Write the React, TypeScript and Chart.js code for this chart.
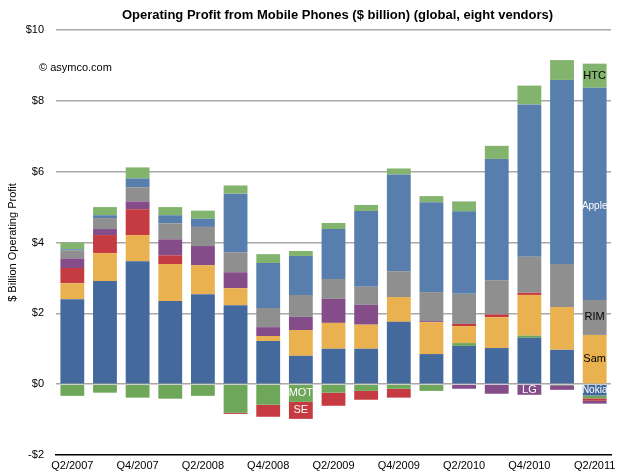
import React, { useEffect, useRef } from "react";
import { Chart, registerables } from "chart.js";

Chart.register(...registerables);

const categories = [
  "Q2/2007", "Q3/2007", "Q4/2007", "Q1/2008", "Q2/2008", "Q3/2008", "Q4/2008", "Q1/2009",
  "Q2/2009", "Q3/2009", "Q4/2009", "Q1/2010", "Q2/2010", "Q3/2010", "Q4/2010", "Q1/2011", "Q2/2011",
];
const shownTickLabels = ["Q2/2007", "Q4/2007", "Q2/2008", "Q4/2008", "Q2/2009", "Q4/2009", "Q2/2010", "Q4/2010", "Q2/2011"];

const nokia = [2.40, 2.91, 3.47, 2.35, 2.54, 2.23, 1.22, 0.80, 1.00, 1.00, 1.76, 0.85, 1.08, 1.02, 1.31, 0.97, -0.32];
const mot = [-0.33, -0.24, -0.38, -0.41, -0.33, -0.81, -0.58, -0.50, -0.24, -0.19, -0.13, -0.19, 0.08, 0, 0.06, -0.03, -0.08];
const samsung = [0.45, 0.79, 0.74, 1.04, 0.82, 0.48, 0.14, 0.73, 0.73, 0.68, 0.70, 0.90, 0.48, 0.87, 1.15, 1.21, 1.39];
const se = [0.43, 0.51, 0.73, 0.25, 0, -0.03, -0.34, -0.48, -0.37, -0.25, -0.25, 0, 0.06, 0.08, 0.06, 0, -0.07];
const lg = [0.27, 0.17, 0.22, 0.45, 0.54, 0.45, 0.25, 0.37, 0.68, 0.56, 0, 0.03, -0.13, -0.27, -0.30, -0.13, -0.08];
const rim = [0.23, 0.31, 0.40, 0.45, 0.54, 0.56, 0.54, 0.62, 0.56, 0.51, 0.73, 0.82, 0.85, 0.96, 1.02, 1.21, 0.99];
const apple = [0.03, 0.08, 0.25, 0.23, 0.23, 1.66, 1.27, 1.10, 1.41, 2.14, 2.73, 2.54, 2.33, 3.43, 4.30, 5.20, 5.99];
const htc = [0.19, 0.23, 0.31, 0.23, 0.23, 0.23, 0.25, 0.14, 0.17, 0.17, 0.17, 0.17, 0.28, 0.37, 0.53, 0.56, 0.68];

const yTicks = [-2, 0, 2, 4, 6, 8, 10];

const seriesNames = ["Nokia", "MOT", "Samsung", "SE", "LG", "RIM", "Apple", "HTC"];
const seriesValues = [nokia, mot, samsung, se, lg, rim, apple, htc];
const seriesColors = ["#44699C", "#6EA75A", "#E9B14F", "#C53B41", "#844D89", "#8E8F8E", "#577EAC", "#83B46D"];

const segmentLabels = [
  { text: "HTC", series: "HTC", index: 16, color: "#000000", frac: 0.5, size: 11 },
  { text: "Apple", series: "Apple", index: 16, color: "#ffffff", frac: 0.44, size: 10 },
  { text: "RIM", series: "RIM", index: 16, color: "#000000", frac: 0.5, size: 11 },
  { text: "Sam", series: "Samsung", index: 16, color: "#000000", frac: 0.5, size: 11 },
  { text: "Nokia", series: "Nokia", index: 16, color: "#ffffff", frac: 0.5, size: 10 },
  { text: "LG", series: "LG", index: 14, color: "#ffffff", frac: 0.5, size: 11 },
  { text: "MOT", series: "MOT", index: 7, color: "#ffffff", frac: 0.5, size: 11 },
  { text: "SE", series: "SE", index: 7, color: "#ffffff", frac: 0.5, size: 11 },
];

const titleText = "Operating Profit from Mobile Phones ($ billion) (global, eight vendors)";
const yTitleText = "$ Billion Operating Profit";
const copyrightText = "\u00A9 asymco.com";
const FONT = "'Liberation Sans', Arial, Helvetica, sans-serif";

const textPlugin = {
  id: "textPlugin",
  afterDatasetsDraw(chart: any) {
    const { ctx, chartArea, scales } = chart;
    ctx.save();
    // segment labels
    segmentLabels.forEach((l) => {
      const di = seriesNames.indexOf(l.series);
      const el = chart.getDatasetMeta(di).data[l.index];
      if (!el) return;
      const y = el.base + (el.y - el.base) * l.frac;
      ctx.font = `${l.size}px ${FONT}`;
      ctx.fillStyle = l.color;
      ctx.textAlign = "center";
      ctx.textBaseline = "middle";
      ctx.fillText(l.text, el.x, y);
    });
    // title
    ctx.font = `bold 13px ${FONT}`;
    ctx.fillStyle = "#000";
    ctx.textAlign = "center";
    ctx.textBaseline = "middle";
    ctx.fillText(titleText, (chartArea.left + chartArea.right) / 2 + 4, 15);
    // copyright
    ctx.font = `11px ${FONT}`;
    ctx.textAlign = "left";
    ctx.fillText(copyrightText, chartArea.left - 17, scales.y.getPixelForValue(8.93));
    // y title
    ctx.translate(13, (chartArea.top + chartArea.bottom) / 2);
    ctx.rotate(-Math.PI / 2);
    ctx.textAlign = "center";
    ctx.fillText(yTitleText, 0, 0);
    ctx.restore();
  },
};

export default function App() {
  const ref = useRef<HTMLCanvasElement | null>(null);
  useEffect(() => {
    if (!ref.current) return;
    const chart = new Chart(ref.current, {
      type: "bar",
      data: {
        labels: categories,
        datasets: seriesNames.map((n, i) => ({
          label: n,
          data: seriesValues[i],
          backgroundColor: seriesColors[i],
          borderWidth: 0,
          barPercentage: 0.73,
          categoryPercentage: 1.0,
          stack: "s",
        })),
      },
      options: {
        responsive: false,
        animation: false,
        layout: { padding: { top: 30, right: 9, left: 0, bottom: 0 } },
        plugins: { legend: { display: false }, title: { display: false }, tooltip: { enabled: false } },
        scales: {
          x: {
            stacked: true,
            grid: { display: false, drawTicks: false },
            border: { display: true, color: "#000000", width: 1.5 },
            ticks: {
              autoSkip: false,
              maxRotation: 0,
              padding: 4,
              color: "#000",
              font: { family: FONT, size: 11 },
              callback: (v: any) => {
                const lab = categories[v as number];
                return shownTickLabels.includes(lab) ? lab : "";
              },
            },
            afterFit: (s: any) => { s.height = 20; },
          },
          y: {
            stacked: true,
            min: yTicks[0],
            max: yTicks[yTicks.length - 1],
            afterBuildTicks: (s: any) => { s.ticks = yTicks.map((v) => ({ value: v })); },
            grid: {
              drawTicks: false,
              lineWidth: 1.5,
              color: (c: any) => (c.tick && c.tick.value === yTicks[0] ? "rgba(0,0,0,0)" : "#A8A8A8"),
            },
            border: { display: false },
            ticks: {
              padding: 12,
              color: "#000",
              font: { family: FONT, size: 11 },
              callback: (v: any) => (v < 0 ? "-$" + Math.abs(v) : "$" + v),
            },
            afterFit: (s: any) => { s.width = 56; },
          },
        },
      },
      plugins: [textPlugin],
    });
    return () => chart.destroy();
  }, []);
  return (
    <div style={{ position: "fixed", left: 0, top: 0, width: 620, height: 475, background: "#fff" }}>
      <canvas ref={ref} width={620} height={475} style={{ width: 620, height: 475 }} />
    </div>
  );
}
